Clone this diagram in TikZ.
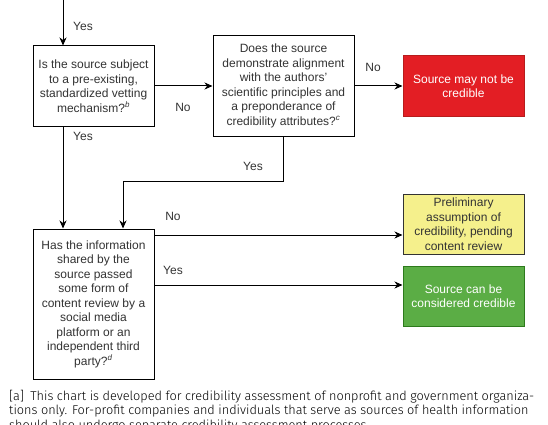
\documentclass[tikz,border=0pt]{standalone}
\usepackage{fontspec}
\setmainfont{Liberation Sans}
\newfontfamily\notefont{Fira Sans Light}
\usepackage{xcolor}
\usetikzlibrary{arrows.meta}

\definecolor{txtgray}{HTML}{333333}
\definecolor{badred}{HTML}{E31E24}
\definecolor{badredline}{HTML}{B71C1C}
\definecolor{okgreen}{HTML}{5BAD45}
\definecolor{okgreenline}{HTML}{2D7A1C}
\definecolor{maybeyellow}{HTML}{F5F08C}

\tikzset{
  question/.style={draw=black, line width=1pt, fill=white, align=center,
    text=txtgray, font=\fontsize{12}{14.5}\selectfont, inner sep=2pt},
  outcome/.style={draw, line width=1pt, align=center, minimum width=121pt,
    minimum height=60pt, font=\fontsize{12}{14.5}\selectfont, inner sep=2pt},
  arr/.style={line width=1pt, -{Stealth[length=8pt,width=7pt,inset=2.5pt]}},
  lbl/.style={text=txtgray, font=\fontsize{12}{14.5}\selectfont},
  note/.style={anchor=base west, inner sep=0pt, text=black,
    font=\notefont\fontsize{12.7}{14}\selectfont}
}

\begin{document}
\begin{tikzpicture}[x=1pt,y=-1pt]
    \useasboundingbox (0,0) rectangle (548,425);
    \clip (0,0) rectangle (548,425);

    % question boxes
    \node[question, minimum width=121pt, minimum height=80pt] (q1) at (93.5,86)
        {Is the source subject\\to a pre-existing,\\standardized vetting\\mechanism?\textsuperscript{\textit{b}}};
    \node[question, minimum width=141pt, minimum height=100pt] (q2) at (283.5,86)
        {Does the source\\demonstrate alignment\\with the authors'\\scientific principles and\\a preponderance of\\credibility attributes?\textsuperscript{\textit{c}}};
    \node[question, minimum width=121pt, minimum height=150pt] (q3) at (93.5,304)
        {Has the information\\shared by the\\source passed\\some form of\\content review by a\\social media\\platform or an\\independent third\\party?\textsuperscript{\textit{d}}};

    % outcome boxes
    \node[outcome, draw=badredline, fill=badred, text=white] (red) at (463.5,86)
        {Source may not be\\credible};
    \node[outcome, draw=txtgray, fill=maybeyellow, text=txtgray] (yellow) at (463.5,224)
        {Preliminary\\assumption of\\credibility, pending\\content review};
    \node[outcome, draw=okgreenline, fill=okgreen, text=white] (green) at (463.5,296)
        {Source can be\\considered credible};

    % connectors
    \coordinate (top) at (63,0);
    \coordinate (bend) at (123,181.7);
    \draw[arr] (top) -- (top |- q1.north);
    \draw[arr] (q1.east) -- (q2.west);
    \draw[arr] (q2.east) -- (red.west);
    \draw[arr] (q1.south -| top) -- (q3.north -| top);
    \draw[arr] (q2.south) |- (bend) -- (bend |- q3.north);
    \draw[arr] (q3.east |- 0,235) -- (yellow.west |- 0,235);
    \draw[arr] (q3.east |- 0,285) -- (green.west |- 0,285);

    % labels
    \node[lbl] (y1) at (83,26) {Yes};
    \node[lbl] (n1) at (183,107) {No};
    \node[lbl] (n2) at (373,67) {No};
    \node[lbl] (y2) at (83,136) {Yes};
    \node[lbl] (y3) at (253,166) {Yes};
    \node[lbl] (n3) at (173,216) {No};
    \node[lbl] (y4) at (173,270) {Yes};

    % footnote
    \node[note] (f1) at (9,400) {[a]\enspace This chart is developed for credibility assessment of nonprofit and government organiza-};
    \node[note] (f2) at (9,414.5) {tions only. For-profit companies and individuals that serve as sources of health information};
    \node[note] (f3) at (9,429) {should also undergo separate credibility assessment processes.};
\end{tikzpicture}
\end{document}
